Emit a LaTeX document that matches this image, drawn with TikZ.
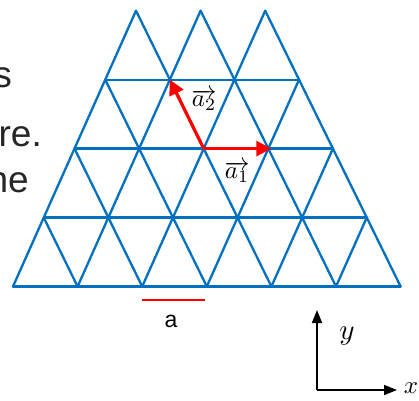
\documentclass[tikz,border=0pt]{standalone}
\usepackage{fontspec}
\setsansfont{Liberation Sans}
\usetikzlibrary{arrows.meta}
\definecolor{latblue}{RGB}{0,112,192}
\definecolor{vecred}{RGB}{255,0,0}
\begin{document}
\begin{tikzpicture}[x=1pt,y=-1pt,
  lattice/.style={draw=latblue,line width=2.3pt,line join=round,line cap=round},
  vec/.style={draw=vecred,line width=3.2pt,-{Triangle[length=15pt,width=15pt]}},
  axis/.style={draw=black,line width=1.8pt,-{Triangle[length=13pt,width=10pt]}},
  mlabel/.style={inner sep=0pt},
  lefttext/.style={inner sep=0pt,anchor=base east,font=\sffamily\fontsize{37}{44}\selectfont,text=black!85},
  scalebar/.style={draw=vecred,line width=2.6pt}]
\useasboundingbox (0,0) rectangle (419,400);
\fill[white] (0,0) rectangle (419,400);
% lattice vertices
\foreach \j in {0,...,4}{
  \pgfmathtruncatemacro\n{6-\j}
  \foreach \i in {0,...,\n}{
    \coordinate (v-\i-\j) at ({13+64.6*\i+30.75*\j},{286.5-68.95*\j});
  }
}
% horizontal lines
\foreach \j in {0,...,3}{
  \pgfmathtruncatemacro\n{6-\j}
  \draw[lattice] (v-0-\j) -- (v-\n-\j);
}
% "/" lines
\foreach \i in {0,...,5}{
  \pgfmathtruncatemacro\m{min(4,6-\i)}
  \draw[lattice] (v-\i-0) -- (v-\i-\m);
}
% "\" lines
\foreach \i in {1,...,6}{
  \pgfmathtruncatemacro\m{min(4,\i)}
  \pgfmathtruncatemacro\k{\i-\m}
  \draw[lattice] (v-\i-0) -- (v-\k-\m);
}
% lattice vectors
\draw[vec,shorten >=-3pt] (v-2-2) -- (v-3-2);
\draw[vec] (v-2-2) -- (v-1-3);
\node[mlabel] (la2) at (204,100) {\scalebox{2.5}{$\overrightarrow{a_2}$}};
\node[mlabel] (la1) at (237,172) {\scalebox{2.5}{$\overrightarrow{a_1}$}};
% scale bar
\coordinate (sb1) at (142,300);
\coordinate (sb2) at (205,300);
\draw[scalebar] (sb1) -- (sb2);
\node[inner sep=0pt,font=\sffamily\fontsize{23}{27}\selectfont] (alab) at (171,321) {a};
% axes
\coordinate (o) at (317,390);
\coordinate (ytip) at (317,310);
\coordinate (xtip) at (397,390);
\draw[axis] (o) -- (ytip);
\draw[axis] (o) -- (xtip);
\node[mlabel] (ylab) at (347,336) {\scalebox{2.9}{$y$}};
\node[mlabel] (xlab) at (411,388) {\scalebox{2.5}{$x$}};
% clipped text on the left
\node[lefttext] (t1) at (12,87) {s};
\node[lefttext] (t2) at (42,146) {re.};
\node[lefttext] (t3) at (29,192) {he};
\end{tikzpicture}
\end{document}
